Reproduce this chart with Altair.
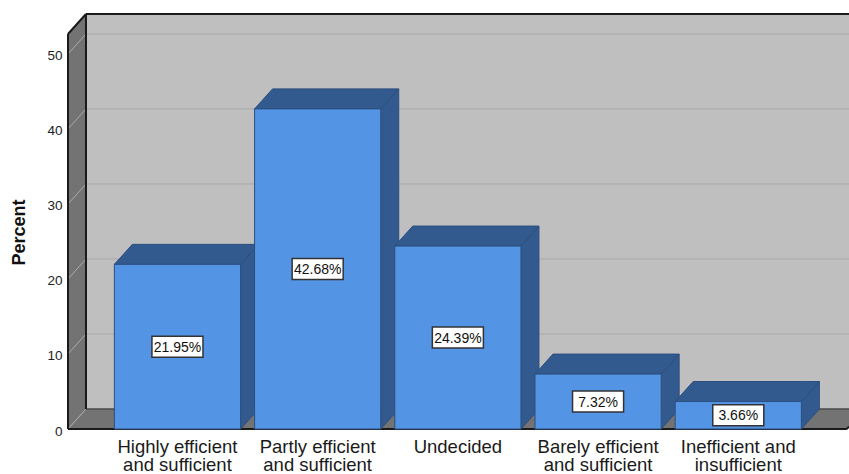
import altair as alt
import pandas as pd

# Survey responses and their share of the sample
categories = [
    "Highly efficient\nand sufficient",
    "Partly efficient\nand sufficient",
    "Undecided",
    "Barely efficient\nand sufficient",
    "Inefficient and\ninsufficient",
]
percents = [21.95, 42.68, 24.39, 7.32, 3.66]
y_ticks = [0, 10, 20, 30, 40, 50]

# Scale extents and the oblique offset used for the 3-D look
X_MIN, X_MAX = -0.7807, 4.7897
Y_MAX = 55.33
DX, DY = 0.1283, 2.667
FLOOR_END = 4.774
WALL_TOP = Y_MAX - DY
HALF_BAR = 0.45
BOX_W, BOX_H = 0.182, 1.4

FRONT = "#5494e4"
SHADE = "#325a8f"
EDGE = "#2c4f7e"
WALL = "#bfbfbf"
DARK_WALL = "#737373"
FONT = "Liberation Sans"

x_scale = alt.Scale(domain=[X_MIN, X_MAX], nice=False, zero=False)
y_scale = alt.Scale(domain=[0, Y_MAX], nice=False, zero=False)

# Every layer shares one value axis definition so that the merged axis survives
value_axis = alt.Axis(
    values=y_ticks, grid=False, domain=False, ticks=False,
    labelFont=FONT, labelFontSize=13.5, labelColor="#222222", labelPadding=6,
    labelBaseline="middle", labelOffset=2,
    titleFont=FONT, titleFontSize=18, titleFontWeight="bold", titleColor="#111111",
    titleX=-40, titleY=218,
)
X = alt.X("x:Q", scale=x_scale, axis=None)
Y = alt.Y("y:Q", scale=y_scale, axis=value_axis, stack=None, title="Percent")


def face_rows(key, corners):
    return [{"key": key, "x": cx, "y": cy, "y2": cy2} for cx, cy, cy2 in corners]


def faces(rows, fill, stroke=None, width=1):
    style = {"fill": fill, "orient": "vertical", "clip": True, "opacity": 1}
    if stroke:
        style.update(stroke=stroke, strokeWidth=width)
    return alt.Chart(pd.DataFrame(rows)).mark_area(**style).encode(
        x=X, y=Y, y2="y2:Q", detail="key:N"
    )


def segments(rows, color, width=1):
    return alt.Chart(pd.DataFrame(rows)).mark_rule(
        color=color, strokeWidth=width, clip=False
    ).encode(x=X, x2="x2:Q", y=Y, y2="y2:Q")


def seg(x1, y1, x2, y2):
    return {"x": x1, "x2": x2, "y": y1, "y2": y2}


# Room shell: back wall, left wall and floor
back_wall = face_rows("wall", [(X_MIN + DX, Y_MAX, DY), (X_MAX, Y_MAX, DY)])
left_wall = face_rows("left", [(X_MIN, WALL_TOP, 0), (X_MIN + DX, Y_MAX, DY)])
floor = face_rows("floor", [
    (X_MIN, 0, 0),
    (X_MIN + DX, DY, 0),
    (FLOOR_END, DY, 0),
    (X_MAX, DY, (X_MAX - FLOOR_END) / DX * DY),
])

grid_back = [seg(X_MIN + DX, t + DY, X_MAX, t + DY) for t in y_ticks[1:]]
grid_side = [seg(X_MIN, t, X_MIN + DX, t + DY) for t in y_ticks]
floor_back = [seg(X_MIN + DX, DY, X_MAX, DY)]
frame = [
    seg(X_MIN, 0, X_MIN, WALL_TOP),
    seg(X_MIN, WALL_TOP, X_MIN + DX, Y_MAX),
    seg(X_MIN + DX, Y_MAX, X_MAX, Y_MAX),
    seg(X_MIN + DX, DY, X_MIN + DX, Y_MAX),
    seg(X_MIN, 0, FLOOR_END, 0),
    seg(FLOOR_END, 0, X_MAX, (X_MAX - FLOOR_END) / DX * DY),
]

# Bar solids: side and top faces share one shade, the front is a plain rectangle
side_rows, top_rows, front_rows, box_rows = [], [], [], []
for i, value in enumerate(percents):
    left, right = i - HALF_BAR, i + HALF_BAR
    side_rows += face_rows(f"s{i}", [(right, value, 0), (right + DX, value + DY, DY)])
    top_rows += face_rows(f"t{i}", [
        (left, value, value),
        (left + DX, value + DY, value),
        (right, value + DY, value),
        (right + DX, value + DY, value + DY),
    ])
    front_rows.append({"x": left, "x2": right, "y": 0, "y2": value})
    box_rows.append({
        "x": i - BOX_W, "x2": i + BOX_W,
        "y": value / 2 - BOX_H, "y2": value / 2 + BOX_H,
        "cx": i, "y_mid": value / 2, "label": f"{value:.2f}%",
    })

fronts = alt.Chart(pd.DataFrame(front_rows)).mark_rect(
    fill=FRONT, stroke=EDGE, strokeWidth=1
).encode(x=X, x2="x2:Q", y=Y, y2="y2:Q")

boxes_df = pd.DataFrame(box_rows)
boxes = alt.Chart(boxes_df).mark_rect(
    fill="white", stroke="#333333", strokeWidth=1.5
).encode(x=X, x2="x2:Q", y=Y, y2="y2:Q")
box_text = alt.Chart(boxes_df).mark_text(
    font=FONT, fontSize=14, color="#111111", baseline="middle", align="center", dy=1
).encode(
    x=alt.X("cx:Q", scale=x_scale, axis=None),
    y=alt.Y("y_mid:Q", scale=y_scale, axis=value_axis, title="Percent"),
    text="label:N",
)

category_labels = alt.Chart(
    pd.DataFrame({"cx": range(len(categories)), "y": 0, "label": categories})
).mark_text(
    font=FONT, fontSize=18.5, color="#1a1a1a", baseline="top", align="center",
    dy=8.5, lineBreak="\n", lineHeight=18.5,
).encode(x=alt.X("cx:Q", scale=x_scale, axis=None), y=Y, text="label:N")

chart = alt.layer(
    faces(back_wall, WALL),
    faces(left_wall, DARK_WALL),
    faces(floor, DARK_WALL),
    segments(grid_back, "#a8a8a8"),
    segments(grid_side, "#ababab"),
    segments(floor_back, "#4a4a4a", 1.5),
    segments(frame, "#1a1a1a", 2),
    faces(side_rows, SHADE, EDGE),
    faces(top_rows, SHADE, EDGE),
    fronts,
    boxes,
    box_text,
    category_labels,
).properties(
    width=781,
    height=415,
    padding={"left": 68, "top": 14, "right": 0, "bottom": 45},
    autosize=alt.AutoSizeParams(type="none"),
    background="white",
).configure_view(stroke=None)

chart.save("out.html", embed_options={"renderer": "svg", "actions": False})
